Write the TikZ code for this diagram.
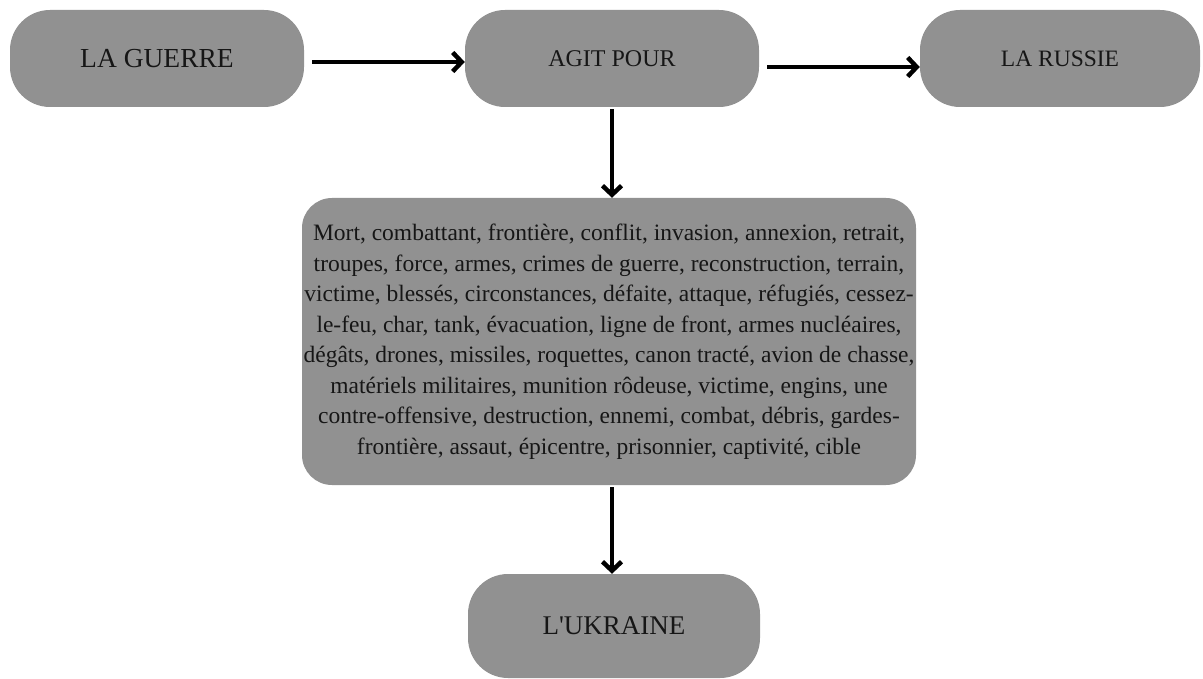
\documentclass[tikz,border=0pt]{standalone}
\usepackage{fontspec}
\setmainfont{Liberation Serif}
\usetikzlibrary{arrows.meta}
\definecolor{boxgray}{RGB}{145,145,145}
\definecolor{txt}{RGB}{22,22,22}
\tikzset{
  pill/.style={fill=boxgray, draw=none, rounded corners=40pt, inner sep=0pt, text=txt, align=center},
  arr/.style={line width=4pt, -{Straight Barb[length=9pt,width=19pt,line width=4.5pt]}, line cap=butt}
}
\begin{document}
\begin{tikzpicture}[x=1pt,y=-1pt]
\useasboundingbox (0,0) rectangle (1203,679);
\node[pill, minimum width=294pt, minimum height=97pt, font=\fontsize{27.5}{30}\selectfont] (g) at (157,58.5) {LA GUERRE};
\node[pill, minimum width=294pt, minimum height=97pt, font=\fontsize{24}{30}\selectfont] (a) at (612,58.5) {AGIT POUR};
\node[pill, minimum width=280pt, minimum height=97pt, font=\fontsize{23.5}{30}\selectfont] (r) at (1060,58.5) {LA RUSSIE};
\node[pill, rounded corners=30pt, minimum width=614pt, minimum height=287pt, font=\fontsize{23.5}{30.5}\selectfont] (w) at (609,341.5)
{Mort, combattant, frontière, conflit, invasion, annexion, retrait,\\
troupes, force, armes, crimes de guerre, reconstruction, terrain,\\
victime, blessés, circonstances, défaite, attaque, réfugiés, cessez-\\
le-feu, char, tank, évacuation, ligne de front, armes nucléaires,\\
dégâts, drones, missiles, roquettes, canon tracté, avion de chasse,\\
matériels militaires, munition rôdeuse, victime, engins, une\\
contre-offensive, destruction, ennemi, combat, débris, gardes-\\
frontière, assaut, épicentre, prisonnier, captivité, cible};
\node[pill, minimum width=292pt, minimum height=104pt, font=\fontsize{27}{30}\selectfont] (u) at (614,626) {L\textquotesingle UKRAINE};
\draw[arr] ([xshift=8pt,yshift=-3.5pt]g.east) -- ([yshift=-3.5pt]a.west);
\draw[arr] ([xshift=8pt,yshift=-8.5pt]a.east) -- ([yshift=-8.5pt]r.west);
\draw[arr] ([yshift=-2pt]a.south) -- (a.south |- w.north);
\draw[arr] ([yshift=-2pt]w.south -| a.south) -- (a.south |- u.north);
\end{tikzpicture}
\end{document}
